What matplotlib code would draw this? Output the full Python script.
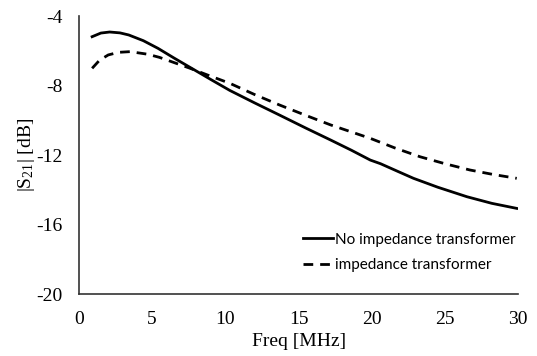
import matplotlib
matplotlib.use('Agg')
from matplotlib import pyplot as plt
import numpy as np

# values
freq_no = [0.9, 1.5, 2.1, 2.8, 3.4, 4.4, 5.4, 6.5, 7.7, 9.0, 10.3, 12.0, 13.7, 15.5,
           17.2, 18.6, 19.9, 20.6, 21.8, 22.85, 24.5, 26.5, 28.2, 29.9]
s21_no = [-5.19, -4.98, -4.92, -4.97, -5.09, -5.42, -5.86, -6.42, -7.01, -7.65, -8.28,
          -9.0, -9.7, -10.45, -11.14, -11.72, -12.29, -12.5, -12.95, -13.34, -13.85,
          -14.4, -14.78, -15.07]

freq_tr = [0.9, 1.4, 2.0, 2.7, 3.5, 4.7, 5.5, 6.3, 7.5, 8.8, 10.3, 12.0, 13.7, 15.5,
           17.2, 19.9, 21.6, 23.3, 25.0, 26.7, 28.3, 29.9]
s21_tr = [-7.01, -6.55, -6.24, -6.09, -6.05, -6.2, -6.38, -6.62, -6.98, -7.4, -7.87,
          -8.52, -9.12, -9.72, -10.27, -11.04, -11.6, -12.1, -12.5, -12.86, -13.12, -13.34]

xticks = [0, 5, 10, 15, 20, 25, 30]
yticks = [-20, -16, -12, -8, -4]

serif = 'Liberation Serif'
plt.rcParams['axes.unicode_minus'] = False
plt.rcParams['mathtext.fontset'] = 'custom'
plt.rcParams['mathtext.rm'] = serif
plt.rcParams['mathtext.it'] = serif + ':italic'

fig = plt.figure(figsize=(5.37, 3.56), dpi=100)
ax = fig.add_axes([0.147, 0.174, 0.818, 0.781])

ax.plot(freq_no, s21_no, color='black', linewidth=2, label='No impedance transformer')
ax.plot(freq_tr, s21_tr, color='black', linewidth=2, linestyle=(0, (3.5, 2.5)),
        label='impedance transformer')

ax.set_xlim(0, 30)
ax.set_ylim(-20, -4)
ax.set_xticks(xticks)
ax.set_yticks(yticks)
ax.tick_params(length=0, pad=12, labelsize=14)
for lab in ax.get_xticklabels() + ax.get_yticklabels():
    lab.set_fontfamily(serif)

for s in ['top', 'right']:
    ax.spines[s].set_visible(False)
for s in ['left', 'bottom']:
    ax.spines[s].set_color('#333333')
    ax.spines[s].set_linewidth(1.2)

ax.set_xlabel('Freq [MHz]', fontsize=14, fontfamily=serif, labelpad=4)
ax.set_ylabel(r'|S$\mathrm{_{21}}$| [dB]', fontsize=14, fontfamily=serif)
ax.yaxis.set_label_coords(-0.095, 0.5)

ax.legend(loc='lower right', bbox_to_anchor=(1.025, 0.03), frameon=False,
          prop={'family': 'Lato', 'size': 11}, handlelength=1.9,
          handletextpad=0.15, labelspacing=0.75)

fig.savefig('out.png', dpi=100)
